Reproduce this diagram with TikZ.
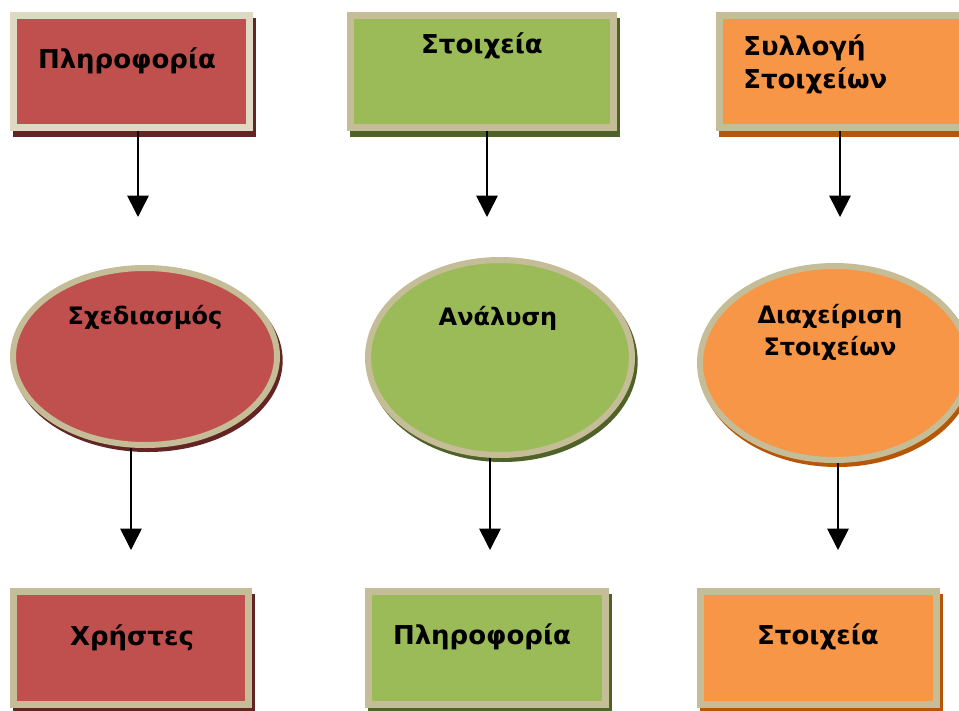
\documentclass[tikz,border=0pt]{standalone}
\usepackage{fontspec}
\setmainfont{DejaVu Sans}
\usetikzlibrary{shadows,arrows.meta,shapes.geometric}

\definecolor{redfill}{HTML}{C0504D}
\definecolor{greenfill}{HTML}{9BBB59}
\definecolor{orangefill}{HTML}{F79646}
\definecolor{lightrim}{HTML}{DDD9C3}
\definecolor{rim}{HTML}{C4BD97}
\definecolor{redshade}{HTML}{632523}
\definecolor{greenshade}{HTML}{4F6228}
\definecolor{orangeshade}{HTML}{B65708}

\tikzset{
    shape box/.style={rectangle, draw=rim, line width=5.25pt, inner sep=0pt,
        drop shadow={shadow xshift=2.5pt, shadow yshift=-4.5pt, fill=#1, draw=#1, line width=5.25pt, opacity=1}},
    shape oval/.style={ellipse, draw=rim, line width=4.5pt, inner sep=0pt,
        drop shadow={shadow xshift=2pt, shadow yshift=-3pt, fill=#1, draw=#1, line width=4.5pt, opacity=1}},
    boxtext/.style={font=\fontsize{19.5}{25}\selectfont\bfseries, inner sep=0pt},
    ovaltext/.style={font=\fontsize{18}{24}\selectfont\bfseries, inner sep=0pt, align=center},
    arr/.style={line width=1.2pt, -{Triangle[length=16pt,width=16pt]}}
}

\begin{document}
\begin{tikzpicture}[x=0.75pt, y=-0.75pt]
    \clip (0,0) rectangle (959,710);
    \fill[white] (0,0) rectangle (959,710);

    % Top row
    \node[shape box=redshade, draw=lightrim, fill=redfill, minimum width=177pt, minimum height=84pt] (plA) at (131.5,71.5) {};
    \node[shape box=greenshade, fill=greenfill, minimum width=197.25pt, minimum height=84pt] (stB) at (482,71.5) {};
    \node[shape box=orangeshade, fill=orangefill, minimum width=189pt, minimum height=84pt] (syC) at (845.5,71.5) {};

    \node[boxtext] (plA-t) at (127,61) {Πληροφορία};
    \node[boxtext] (stB-t) at (482,46) {Στοιχεία};
    \node[boxtext, anchor=west, align=left] (syC-t) at (743,64) {Συλλογή\\Στοιχείων};

    % Middle row
    \node[shape oval=redshade, fill=redfill, minimum width=198pt, minimum height=132.75pt] (sxG) at (145,356.5) {};
    \node[shape oval=greenshade, fill=greenfill, minimum width=198pt, minimum height=146.25pt] (anH) at (500,357.5) {};
    \node[shape oval=orangeshade, fill=orangefill, minimum width=201.75pt, minimum height=145.5pt] (diI) at (834.5,363) {};

    \node[ovaltext] (sxG-t) at (145,317) {Σχεδιασμός};
    \node[ovaltext] (anH-t) at (498,318) {Ανάλυση};
    \node[ovaltext] (diI-t) at (830,332) {Διαχείριση\\Στοιχείων};

    % Bottom row
    \node[shape box=redshade, fill=redfill, minimum width=176.25pt, minimum height=84.75pt] (chD) at (131,648) {};
    \node[shape box=greenshade, fill=greenfill, minimum width=177.75pt, minimum height=84.75pt] (plE) at (487,648) {};
    \node[shape box=orangeshade, fill=orangefill, minimum width=177pt, minimum height=84.75pt] (stF) at (818.5,648) {};

    \node[boxtext] (chD-t) at (132,638) {Χρήστες};
    \node[boxtext] (plE-t) at (482,637) {Πληροφορία};
    \node[boxtext] (stF-t) at (818,637) {Στοιχεία};

    % Arrows
    \coordinate (endA) at (138,217);
    \coordinate (endB) at (487,217);
    \coordinate (endC) at (840,217);
    \coordinate (endG) at (131,550);
    \coordinate (endH) at (490,550);
    \coordinate (endI) at (838,550);
    \foreach \from/\to in {plA/endA, stB/endB, syC/endC, sxG/endG, anH/endH, diI/endI} {
        \draw[arr] (\to |- \from.south) -- (\to);
    }
\end{tikzpicture}
\end{document}
